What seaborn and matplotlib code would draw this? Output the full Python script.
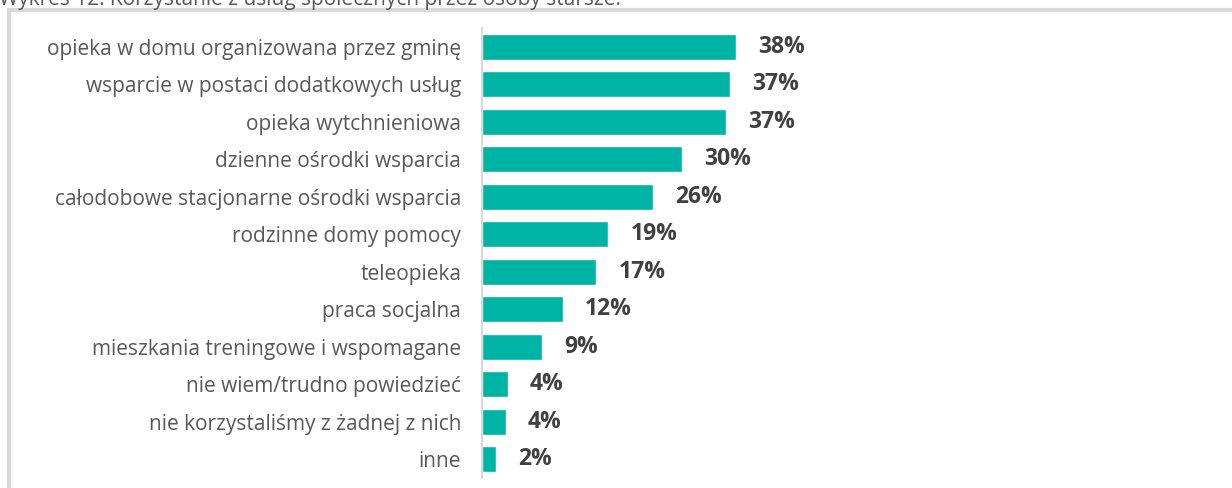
import matplotlib
matplotlib.use("Agg")
import matplotlib.pyplot as plt
import numpy as np
import pandas as pd
import seaborn as sns
from matplotlib.patches import Rectangle

# data
categories = [
    "opieka w domu organizowana przez gminę",
    "wsparcie w postaci dodatkowych usług",
    "opieka wytchnieniowa",
    "dzienne ośrodki wsparcia",
    "całodobowe stacjonarne ośrodki wsparcia",
    "rodzinne domy pomocy",
    "teleopieka",
    "praca socjalna",
    "mieszkania treningowe i wspomagane",
    "nie wiem/trudno powiedzieć",
    "nie korzystaliśmy z żadnej z nich",
    "inne",
]
shares = [38.0, 37.2, 36.6, 29.9, 25.6, 18.9, 17.1, 12.1, 9.0, 3.9, 3.6, 2.1]
title = "Wykres 12. Korzystanie z usług społecznych przez osoby starsze."

BAR = "#00B4A5"
GRID = "#D9D9D9"

sns.set_theme(style="white")
plt.rcParams["font.family"] = ["Open Sans", "DejaVu Sans"]

df = pd.DataFrame({"kategoria": categories, "udzial": shares})

W, H = 1232, 488
fig = plt.figure(figsize=(W / 100, H / 100), dpi=100)

# outer frame and the title (clipped at the top, as in the source)
fig.patches.append(Rectangle((9 / W, -0.1), 1.2, (H - 10) / H + 0.1, transform=fig.transFigure,
                             fill=False, edgecolor=GRID, linewidth=3))
fig.text(-1 / W, 1 - 5 / H, title, fontsize=15, color="#595959", va="baseline", ha="left")

ax_left, ax_top, ax_bottom = 482, 28, 478
px_per_pct = 6.68
ax_w = 700
ax = fig.add_axes([ax_left / W, (H - ax_bottom) / H, ax_w / W, (ax_bottom - ax_top) / H])

sns.barplot(data=df, x="udzial", y="kategoria", orient="h", color=BAR,
            saturation=1, width=0.69, ax=ax)

ax.set_xlim(0, ax_w / px_per_pct)
ax.set_ylim(len(categories) - 0.5, -0.5)
ax.set_xlabel("")
ax.set_ylabel("")
ax.set_xticks([])
for s in ["top", "right", "bottom"]:
    ax.spines[s].set_visible(False)
ax.spines["left"].set_color(GRID)
ax.spines["left"].set_linewidth(1.5)

ax.tick_params(axis="y", which="major", length=0, pad=15, labelsize=15, labelcolor="#595959")
ax.set_yticks(np.arange(-0.5, len(categories) + 0.5, 1), minor=True)
ax.tick_params(axis="y", which="minor", length=6, width=1.5, color=GRID)

for i, v in enumerate(shares):
    ax.text(v + 22 / px_per_pct, i, f"{v:.0f}%", va="center", ha="left",
            fontsize=16.5, fontweight="bold", color="#404040")

fig.savefig("out.png", dpi=100)
